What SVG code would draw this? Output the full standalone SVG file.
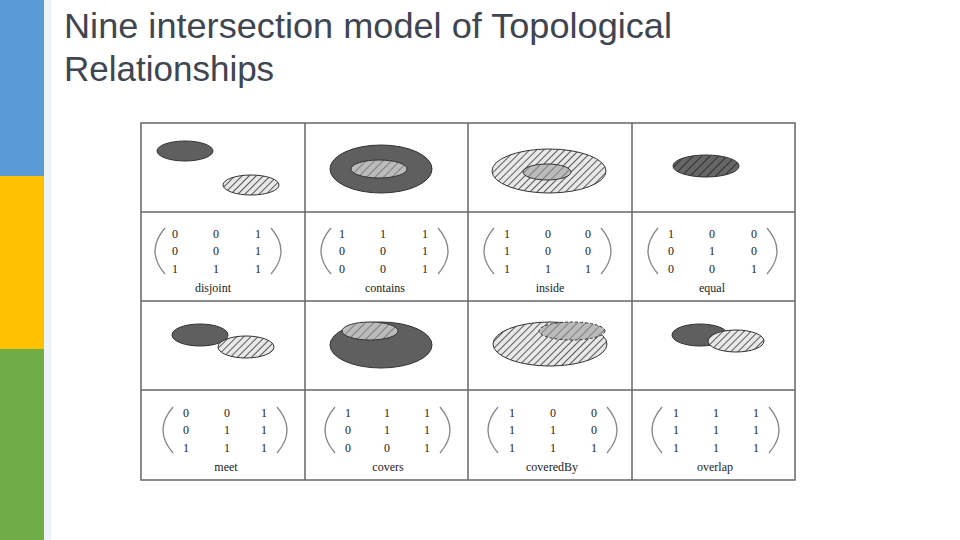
<svg xmlns="http://www.w3.org/2000/svg" width="960" height="540" viewBox="0 0 960 540">
<defs>
<pattern id="h" patternUnits="userSpaceOnUse" width="5" height="5" patternTransform="rotate(45)"><rect width="5" height="5" fill="#e8e8e8"/><line x1="0" y1="0" x2="0" y2="5" stroke="#333" stroke-width="1.6"/></pattern>
<pattern id="hl" patternUnits="userSpaceOnUse" width="6" height="6" patternTransform="rotate(45)"><rect width="6" height="6" fill="#bbb"/><line x1="0" y1="0" x2="0" y2="6" stroke="#555" stroke-width="1.2"/></pattern>
<pattern id="hd" patternUnits="userSpaceOnUse" width="6" height="6" patternTransform="rotate(45)"><rect width="6" height="6" fill="#666"/><line x1="0" y1="0" x2="0" y2="6" stroke="#222" stroke-width="1.6"/></pattern>
</defs>
<style>
.d{fill:#5f5f5f;stroke:#333;stroke-width:1}
.s{stroke:#333;stroke-width:1}
.m{font-family:"Liberation Serif",serif;font-size:12px;fill:#222;text-anchor:middle}
.p{fill:none;stroke:#888;stroke-width:1.3}
.g{stroke:#666;stroke-width:1.5}
</style>
<rect width="960" height="540" fill="#fff"/>
<rect x="0" y="0" width="44" height="176" fill="#5b9bd5"/>
<rect x="0" y="176" width="44" height="173" fill="#ffc000"/>
<rect x="0" y="349" width="44" height="191" fill="#70ad47"/>
<rect x="44" y="0" width="7" height="540" fill="#dde8f0" opacity="0.5"/>
<text x="64" y="38" font-family="Liberation Sans,Arial,sans-serif" font-size="35" fill="#404552" textLength="608" lengthAdjust="spacingAndGlyphs">Nine intersection model of Topological</text>
<text x="64" y="81" font-family="Liberation Sans,Arial,sans-serif" font-size="35" fill="#404552">Relationships</text>
<g id="grid" fill="none" class="g">
<rect x="141" y="123" width="654" height="357"/>
<line x1="305" y1="123" x2="305" y2="480"/><line x1="468" y1="123" x2="468" y2="480"/><line x1="632" y1="123" x2="632" y2="480"/>
<line x1="141" y1="212" x2="795" y2="212"/><line x1="141" y1="301" x2="795" y2="301"/><line x1="141" y1="390" x2="795" y2="390"/>
</g>
<g id="disjoint"><ellipse class="d" cx="185" cy="151" rx="28" ry="10"/><ellipse class="s" fill="url(#h)" cx="251" cy="185" rx="28" ry="10"/></g>
<g id="contains"><ellipse class="d" cx="381" cy="169" rx="51" ry="24"/><ellipse class="s" fill="url(#hl)" cx="379" cy="169" rx="28" ry="9"/></g>
<g id="inside"><ellipse class="s" fill="url(#h)" cx="549" cy="171" rx="57" ry="22"/><ellipse class="s" fill="url(#hl)" cx="547" cy="172" rx="24" ry="8"/></g>
<g id="equal"><ellipse class="s" fill="url(#hd)" cx="706" cy="166" rx="33" ry="11"/></g>
<g id="meet"><ellipse class="d" cx="200" cy="335" rx="28" ry="11"/><ellipse class="s" fill="url(#h)" cx="246" cy="347" rx="28" ry="11"/></g>
<g id="covers"><ellipse class="d" cx="381" cy="345" rx="51" ry="23"/><ellipse class="s" fill="url(#hl)" cx="370" cy="331" rx="28" ry="9"/></g>
<g id="coveredBy"><ellipse class="s" fill="url(#h)" cx="550" cy="344" rx="57" ry="22"/><ellipse class="s" fill="url(#hl)" cx="572" cy="331" rx="33" ry="9" stroke-dasharray="3 2"/></g>
<g id="overlap"><ellipse class="d" cx="700" cy="335" rx="28" ry="11"/><ellipse class="s" fill="url(#h)" cx="736" cy="341" rx="28" ry="11"/></g>
<g id="matrices" class="m">
<g transform="translate(141,0)"><path class="p" d="M24 228 Q4 251 24 274"/><path class="p" d="M130 228 Q150 251 130 274"/>
<text x="34" y="238">0</text><text x="75" y="238">0</text><text x="117" y="238">1</text>
<text x="34" y="255">0</text><text x="75" y="255">0</text><text x="117" y="255">1</text>
<text x="34" y="273">1</text><text x="75" y="273">1</text><text x="117" y="273">1</text>
<text x="72" y="292">disjoint</text></g>
<g transform="translate(305,0)"><path class="p" d="M26 228 Q6 251 26 274"/><path class="p" d="M133 228 Q153 251 133 274"/>
<text x="37" y="238">1</text><text x="78" y="238">1</text><text x="120" y="238">1</text>
<text x="37" y="255">0</text><text x="78" y="255">0</text><text x="120" y="255">1</text>
<text x="37" y="273">0</text><text x="78" y="273">0</text><text x="120" y="273">1</text>
<text x="80" y="292">contains</text></g>
<g transform="translate(468,0)"><path class="p" d="M26 228 Q6 251 26 274"/><path class="p" d="M133 228 Q153 251 133 274"/>
<text x="39" y="238">1</text><text x="80" y="238">0</text><text x="120" y="238">0</text>
<text x="39" y="255">1</text><text x="80" y="255">0</text><text x="120" y="255">0</text>
<text x="39" y="273">1</text><text x="80" y="273">1</text><text x="120" y="273">1</text>
<text x="82" y="292">inside</text></g>
<g transform="translate(632,0)"><path class="p" d="M26 228 Q6 251 26 274"/><path class="p" d="M135 228 Q155 251 135 274"/>
<text x="39" y="238">1</text><text x="80" y="238">0</text><text x="122" y="238">0</text>
<text x="39" y="255">0</text><text x="80" y="255">1</text><text x="122" y="255">0</text>
<text x="39" y="273">0</text><text x="80" y="273">0</text><text x="122" y="273">1</text>
<text x="80" y="292">equal</text></g>
<g transform="translate(141,179)"><path class="p" d="M32 228 Q12 251 32 274"/><path class="p" d="M136 228 Q156 251 136 274"/>
<text x="45" y="238">0</text><text x="86" y="238">0</text><text x="123" y="238">1</text>
<text x="45" y="255">0</text><text x="86" y="255">1</text><text x="123" y="255">1</text>
<text x="45" y="273">1</text><text x="86" y="273">1</text><text x="123" y="273">1</text>
<text x="85" y="292">meet</text></g>
<g transform="translate(305,179)"><path class="p" d="M30 228 Q10 251 30 274"/><path class="p" d="M135 228 Q155 251 135 274"/>
<text x="43" y="238">1</text><text x="82" y="238">1</text><text x="122" y="238">1</text>
<text x="43" y="255">0</text><text x="82" y="255">1</text><text x="122" y="255">1</text>
<text x="43" y="273">0</text><text x="82" y="273">0</text><text x="122" y="273">1</text>
<text x="83" y="292">covers</text></g>
<g transform="translate(468,179)"><path class="p" d="M30 228 Q10 251 30 274"/><path class="p" d="M139 228 Q159 251 139 274"/>
<text x="44" y="238">1</text><text x="85" y="238">0</text><text x="126" y="238">0</text>
<text x="44" y="255">1</text><text x="85" y="255">1</text><text x="126" y="255">0</text>
<text x="44" y="273">1</text><text x="85" y="273">1</text><text x="126" y="273">1</text>
<text x="84" y="292">coveredBy</text></g>
<g transform="translate(632,179)"><path class="p" d="M30 228 Q10 251 30 274"/><path class="p" d="M137 228 Q157 251 137 274"/>
<text x="44" y="238">1</text><text x="84" y="238">1</text><text x="124" y="238">1</text>
<text x="44" y="255">1</text><text x="84" y="255">1</text><text x="124" y="255">1</text>
<text x="44" y="273">1</text><text x="84" y="273">1</text><text x="124" y="273">1</text>
<text x="83" y="292">overlap</text></g>
</g>
</svg>
